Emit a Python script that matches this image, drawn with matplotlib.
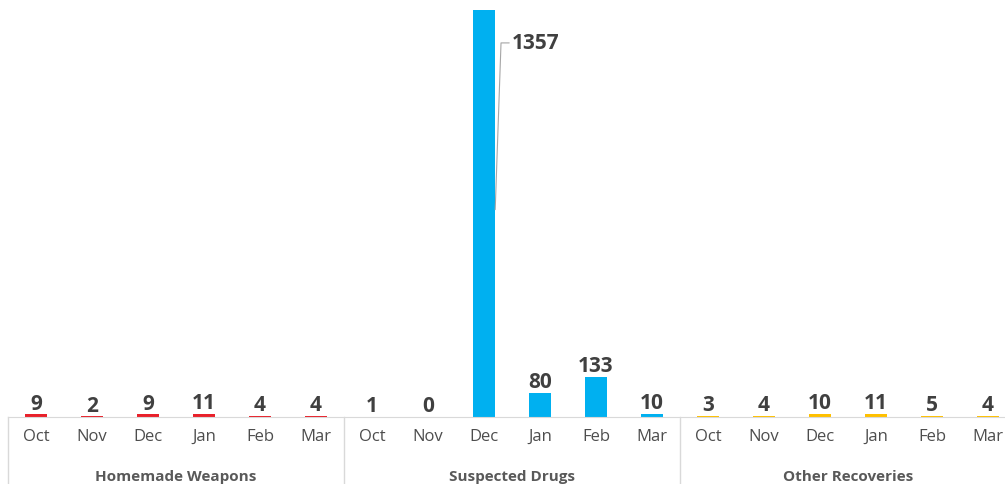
import numpy as np
import matplotlib
matplotlib.use('Agg')
import matplotlib.pyplot as plt
import matplotlib.transforms as mtransforms

# data
groups = ['Homemade Weapons', 'Suspected Drugs', 'Other Recoveries']
months = ['Oct', 'Nov', 'Dec', 'Jan', 'Feb', 'Mar']
weapons = [9, 2, 9, 11, 4, 4]
drugs = [1, 0, 1357, 80, 133, 10]
other = [3, 4, 10, 11, 5, 4]
colors = ['#e8202a', '#00b0f0', '#ffc000']

plt.rcParams['font.family'] = ['Open Sans', 'DejaVu Sans']

fig = plt.figure(figsize=(10.05, 4.85), dpi=100)
ax = fig.add_axes([8 / 1005, 67 / 485, 1008 / 1005, 418 / 485])

series = [weapons, drugs, other]
n = len(months)
big_idx = None
for g, (vals, col) in enumerate(zip(series, colors)):
    x = np.arange(n) + g * n
    ax.bar(x, vals, width=0.4, color=col, zorder=2)
    for xi, v in zip(x, vals):
        if v > 1000:
            big_idx = (xi, v)
            continue
        ax.annotate(str(v), (xi, v), xytext=(0, 0.5), textcoords='offset points',
                    ha='center', va='bottom', fontsize=15, fontweight='bold',
                    color='#404040')

ax.set_xlim(-0.5, 3 * n - 0.5)
ax.set_ylim(0, 1395)

# call-out label for the tall bar
xi, v = big_idx
ax.annotate(str(v), xy=(xi + 0.2, v * 0.51), xytext=(xi + 0.5, v * 0.92),
            ha='left', va='center', fontsize=15, fontweight='bold', color='#404040',
            arrowprops=dict(arrowstyle='-', color='#a6a6a6', lw=0.8,
                            shrinkA=0, shrinkB=0,
                            connectionstyle='angle,angleA=0,angleB=88,rad=0'))

for s in ['top', 'right', 'left']:
    ax.spines[s].set_visible(False)
ax.spines['bottom'].set_color('#d9d9d9')
ax.set_yticks([])
ax.set_xticks(np.arange(3 * n))
ax.set_xticklabels(months * 3, fontsize=12, color='#4d4d4d')
ax.tick_params(axis='x', length=0, pad=8)

# group labels and separators below the axis
trans = mtransforms.blended_transform_factory(ax.transData, ax.transAxes)
for g, name in enumerate(groups):
    ax.text(g * n + (n - 1) / 2, -0.14, name, transform=trans, ha='center',
            va='center', fontsize=11, fontweight='bold', color='#595959')
for g in range(3):
    ax.plot([g * n - 0.5, g * n - 0.5], [0, -0.2], transform=trans,
            color='#d9d9d9', lw=1, clip_on=False)

fig.savefig('out.png', dpi=100)
